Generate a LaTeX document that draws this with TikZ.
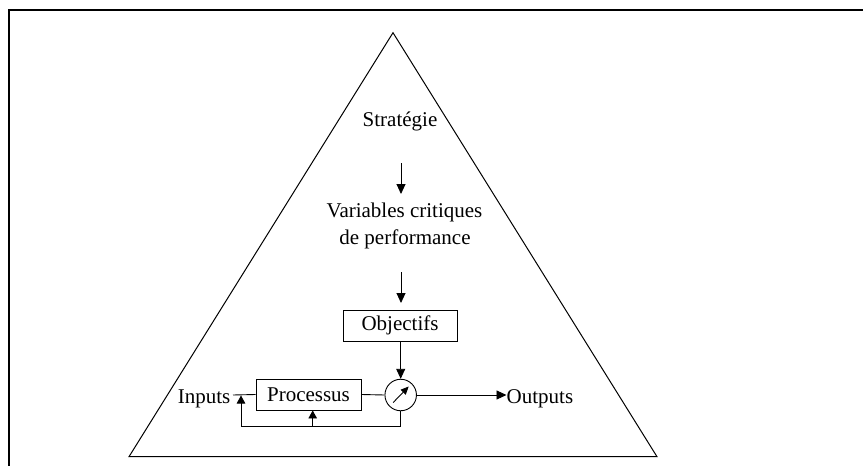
\documentclass[tikz,border=0pt]{standalone}
\usepackage{fontspec}
\setmainfont{Liberation Serif}
\usetikzlibrary{arrows.meta}
\begin{document}
\begin{tikzpicture}[x=1pt,y=-1pt,
  txt/.style={font=\fontsize{21}{27}\selectfont, inner sep=0pt},
  boxed/.style={draw, line width=0.9pt, inner sep=0pt, font=\fontsize{21}{27}\selectfont},
  arr/.style={line width=0.9pt, -{Triangle[length=10pt,width=9pt]}},
  ln/.style={line width=0.9pt}]
\useasboundingbox (0,0) rectangle (863,466);
% partial outer frame
\draw[line width=2pt] (8.7,466) -- (8.7,10.3) -- (863,10.3);
% pyramid
\draw[line width=1pt, line join=miter] (393,32.7) -- (657,456.7) -- (129,456.7) -- cycle;
% hierarchy texts
\node[txt, anchor=base] (strat) at (400,126.7) {Stratégie};
\node[txt, anchor=base] (vars1) at (404.5,217.3) {Variables critiques};
\node[txt, anchor=base] (vars2) at (405,244.3) {de performance};
\coordinate (a1s) at (401,163);
\coordinate (a1e) at (401,194);
\coordinate (a2s) at (401,272);
\coordinate (a2e) at (401,303);
\draw[arr] (a1s) -- (a1e);
\draw[arr] (a2s) -- (a2e);
% control loop
\node[boxed, minimum width=114pt, minimum height=31pt] (obj) at (400,325.5) {Objectifs};
\node[boxed, minimum width=105pt, minimum height=31pt] (proc) at (308.5,394.5) {Processus};
\node[draw, circle, line width=0.9pt, minimum size=31.5pt, inner sep=0pt] (gauge) at (400.7,395) {};
\node[txt, anchor=base east] (inp) at (230.5,403) {Inputs};
\node[txt, anchor=base west] (outp) at (506.5,403) {Outputs};
% gauge needle
\draw[line width=0.9pt, -{Triangle[length=8pt,width=7pt]}] ([shift={(-7.5,7.5)}]gauge.center) -- ([shift={(8,-8.5)}]gauge.center);
\draw[arr] (obj.south -| gauge) -- (gauge.north);
\draw[ln] (proc.east) -- (gauge.west);
\draw[arr] (gauge.east) -- (outp.west |- gauge.east);
\coordinate (inl) at (233,395);
\draw[ln] (proc.west) -- (inl);
% feedback path
\coordinate (fb) at (400.7,426.7);
\coordinate (fbl) at (241,426.7);
\coordinate (fbm) at (312.7,426.7);
\draw[ln] (gauge.south) -- (fb) -- (fbl);
\draw[line width=0.9pt, -{Triangle[length=8pt,width=8.5pt]}] (fbl) -- (241,395.5);
\draw[line width=0.9pt, -{Triangle[length=8pt,width=8.5pt]}] (fbm) -- (fbm |- proc.south);
\end{tikzpicture}
\end{document}
